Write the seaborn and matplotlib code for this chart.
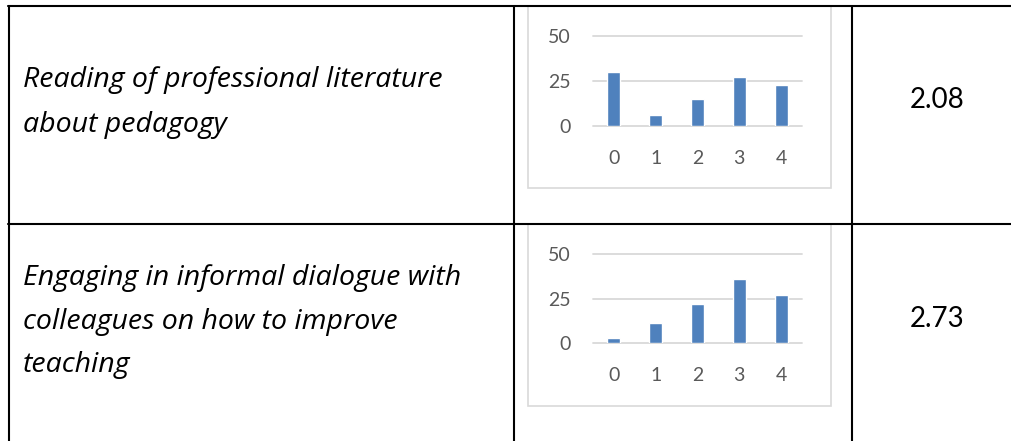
import matplotlib
matplotlib.use("Agg")
import matplotlib.pyplot as plt
from matplotlib.lines import Line2D
from matplotlib.patches import Rectangle
import seaborn as sns
import pandas as pd

# ---- data ----
categories = ["0", "1", "2", "3", "4"]
reading_values = [30, 6, 15, 27, 23]
dialogue_values = [3, 11, 22, 36, 27]
row_labels = [
    ["Reading of professional literature", "about pedagogy"],
    ["Engaging in informal dialogue with", "colleagues on how to improve", "teaching"],
]
mean_labels = ["2.08", "2.73"]
y_ticks = [0, 25, 50]

W, H = 1011, 441
sns.set_theme(style="white")
plt.rcParams["font.family"] = ["Lato", "DejaVu Sans"]

fig = plt.figure(figsize=(W / 100, H / 100), dpi=100)
fig.patch.set_facecolor("white")

def fx(x):
    return x / W

def fy(y):
    return 1 - y / H

BLACK_LW = 1.5
# table lines
for y in (6, 224):
    fig.add_artist(Line2D([fx(8), fx(W)], [fy(y), fy(y)], color="black", lw=BLACK_LW))
for x in (9, 514, 852):
    fig.add_artist(Line2D([fx(x), fx(x)], [fy(6), fy(H)], color="black", lw=BLACK_LW))

bar_color = "#4f81bd"
grid_color = "#d9d9d9"
tick_color = "#595959"

rows = [
    dict(values=reading_values, box=(528, 6, 831, 188), plot=(593, 36, 802, 126),
         baselines=[87, 132], mean_base=108),
    dict(values=dialogue_values, box=(528, 224, 831, 406), plot=(593, 254, 802, 343),
         baselines=[285, 329, 372], mean_base=327),
]

for i, r in enumerate(rows):
    bx0, by0, bx1, by1 = r["box"]
    fig.add_artist(Rectangle((fx(bx0), fy(by1)), fx(bx1) - fx(bx0), fy(by0) - fy(by1),
                             transform=fig.transFigure, fill=False,
                             edgecolor=grid_color, lw=1.2, zorder=1))
    px0, py0, px1, py1 = r["plot"]
    ax = fig.add_axes([fx(px0), fy(py1), fx(px1) - fx(px0), fy(py0) - fy(py1)])
    df = pd.DataFrame({"cat": categories, "val": r["values"]})
    sns.barplot(data=df, x="cat", y="val", order=categories, ax=ax,
                color=bar_color, saturation=1, width=0.31, zorder=3)
    ax.set_xlim(-0.5, 4.5)
    ax.set_ylim(0, 50)
    ax.set_yticks(y_ticks)
    ax.set_xlabel("")
    ax.set_ylabel("")
    for s in ax.spines.values():
        s.set_visible(False)
    ax.set_facecolor("none")
    ax.grid(False)
    for t in y_ticks:
        ax.axhline(t, color=grid_color, lw=1.3, zorder=1, clip_on=False)
    ax.tick_params(axis="x", length=0, pad=17, labelsize=14, labelcolor=tick_color)
    ax.tick_params(axis="y", length=0, pad=16, labelsize=14, labelcolor=tick_color)

    for line, b in zip(row_labels[i], r["baselines"]):
        fig.text(fx(23), fy(b), line, fontsize=20.5, fontstyle="italic",
                 family=["Open Sans", "DejaVu Sans"],
                 ha="left", va="baseline", color="black")
    fig.text(fx(937), fy(r["mean_base"]), mean_labels[i], fontsize=20,
             ha="center", va="baseline", color="black")

fig.savefig("out.png", dpi=100, facecolor="white")
